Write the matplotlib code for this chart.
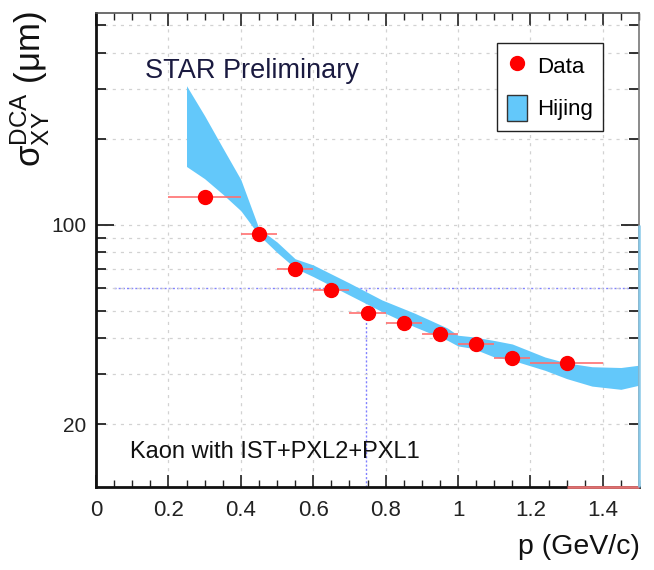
import numpy as np
import matplotlib
matplotlib.use("Agg")
import matplotlib.pyplot as plt
from matplotlib.ticker import FixedLocator, FuncFormatter
from matplotlib.lines import Line2D
from matplotlib.patches import Patch

# ---------------- data ----------------
data_x = [0.30, 0.45, 0.55, 0.65, 0.75, 0.85, 0.95, 1.05, 1.15, 1.30]
data_y = [125, 92.5, 70.0, 59.1, 49.2, 45.3, 41.3, 38.2, 34.1, 32.8]
data_xerr = [0.10, 0.05, 0.05, 0.05, 0.05, 0.05, 0.05, 0.05, 0.05, 0.10]

band_x = [0.25, 0.30, 0.35, 0.40, 0.45, 0.50, 0.55, 0.60, 0.70, 0.79, 0.88,
          0.97, 1.00, 1.04, 1.10, 1.15, 1.24, 1.30, 1.37, 1.45, 1.50]
band_lo = [160, 145, 128, 112, 92, 80, 70.5, 65.8, 56.7, 49.6, 43.9,
           39.4, 37.6, 36.9, 34.4, 33.5, 30.9, 28.9, 27.2, 26.5, 27.4]
band_hi = [307, 241, 186, 144, 97, 87, 76, 72.3, 62.5, 54.5, 49.0,
           43.5, 41.0, 40.5, 39.3, 38.2, 34.4, 32.8, 31.8, 31.6, 32.2]

x_ticks = [0, 0.2, 0.4, 0.6, 0.8, 1.0, 1.2, 1.4]
x_ticklabels = ["0", "0.2", "0.4", "0.6", "0.8", "1", "1.2", "1.4"]
y_major = [100]
y_minor = [20, 30, 40, 50, 60, 70, 80, 90, 200, 300, 400, 500]
y_labelled = {20: "20", 100: "100"}

x_range = (0, 1.5)
y_range = (12.05, 552)

marker_h_y = 60          # blue dotted reference line
marker_h_x = (0.05, 1.5)
marker_v_x = 0.745

# ---------------- style ----------------
plt.rcParams['font.family'] = ['Liberation Sans', 'DejaVu Sans']
plt.rcParams['mathtext.fontset'] = 'custom'
plt.rcParams['mathtext.rm'] = 'Liberation Sans'
plt.rcParams['mathtext.it'] = 'Liberation Sans'

band_color = '#63c8fa'
grid_kw = dict(color='#d2d2d2', linestyle=(0, (2.5, 4)), lw=0.9, zorder=0)

fig = plt.figure(figsize=(6.54, 5.70), dpi=100)
ax = fig.add_axes([0.1468, 0.1456, 0.8303, 0.8316])
ax.set_yscale('log')
ax.set_xlim(*x_range)
ax.set_ylim(*y_range)

# grid
ax.grid(True, which='major', axis='x', **grid_kw)
ax.grid(True, which='both', axis='y', **grid_kw)

# reference lines (blue dotted)
ax.hlines(marker_h_y, marker_h_x[0], marker_h_x[1], colors='#8080ff', linestyles=(0, (1.5, 1.5)), lw=1.0, zorder=1)
ax.vlines(marker_v_x, y_range[0], marker_h_y, colors='#8080ff', linestyles=(0, (1.5, 1.5)), lw=1.0, zorder=1)

# Hijing band
ax.fill_between(band_x, band_lo, band_hi, color=band_color, lw=0, zorder=2)
ax.vlines(band_x[-1], y_range[0], 100, colors='#88c8e8', lw=1.8, zorder=6, clip_on=False)

# data
ax.errorbar(data_x, data_y, xerr=data_xerr, fmt='o', color='red', ms=10,
            ecolor='#ff7070', elinewidth=1.2, capsize=0, zorder=4)
ax.hlines(y_range[0], data_x[-1], x_range[1], colors='#e07070', lw=2, zorder=5, clip_on=False)

# ticks
ax.set_xticks(x_ticks)
ax.set_xticklabels(x_ticklabels)
ax.xaxis.set_minor_locator(FixedLocator(np.arange(0, 1.5001, 0.05)))
ax.yaxis.set_major_locator(FixedLocator(y_major))
ax.yaxis.set_minor_locator(FixedLocator(y_minor))
ax.yaxis.set_major_formatter(FuncFormatter(lambda v, p: y_labelled.get(int(round(v)), "")))
ax.yaxis.set_minor_formatter(FuncFormatter(lambda v, p: y_labelled.get(int(round(v)), "")))
ax.tick_params(which='both', direction='in', top=True, right=True, colors='#222222')
ax.tick_params(axis='x', which='major', length=9, width=1.2, labelsize=16, pad=9)
ax.tick_params(axis='x', which='minor', length=5, width=1.0)
ax.tick_params(axis='y', which='major', length=13, width=1.3, labelsize=15, pad=7)
ax.tick_params(axis='y', which='minor', length=7, width=1.3, labelsize=15, pad=7)

for s in ['left', 'bottom']:
    ax.spines[s].set_linewidth(2.0)
    ax.spines[s].set_color('#111111')
ax.spines['top'].set_linewidth(1.2)
ax.spines['top'].set_color('#555555')
ax.spines['right'].set_linewidth(1.2)
ax.spines['right'].set_color('#777777')

# texts
ax.text(0.0902, 0.8633, "STAR Preliminary", transform=ax.transAxes, fontsize=19.5,
        color='#1a1a40', ha='left', va='baseline', zorder=6)
ax.text(0.0626, 0.0606, "Kaon with IST+PXL2+PXL1", transform=ax.transAxes, fontsize=17,
        color='#111111', ha='left', va='baseline', zorder=6)

fig.text(30 / 654, 1 - 11 / 570, r'$\mathrm{\sigma}_{\mathrm{XY}}^{\mathrm{DCA}}$ (μm)', rotation=90,
         fontsize=25, ha='center', va='top', color='#111111')
fig.text(640 / 654, 1 - 547 / 570, "p (GeV/c)", fontsize=20.5, ha='right', va='center', color='#111111')

# legend
handles = [Line2D([], [], marker='o', color='red', ls='none', ms=10),
           Patch(facecolor=band_color, edgecolor='#333333', lw=1.0)]
leg = ax.legend(handles, ["Data", "Hijing"], loc='upper left', bbox_to_anchor=(0.7385, 0.9373),
                fontsize=16, frameon=True, fancybox=False, framealpha=1, edgecolor='#222222',
                handlelength=0.9, handleheight=1.45, handletextpad=0.45, borderpad=0.45,
                labelspacing=0.7, borderaxespad=0)
leg.get_frame().set_linewidth(1.0)
leg.set_zorder(7)

fig.savefig("out.png", dpi=100)
